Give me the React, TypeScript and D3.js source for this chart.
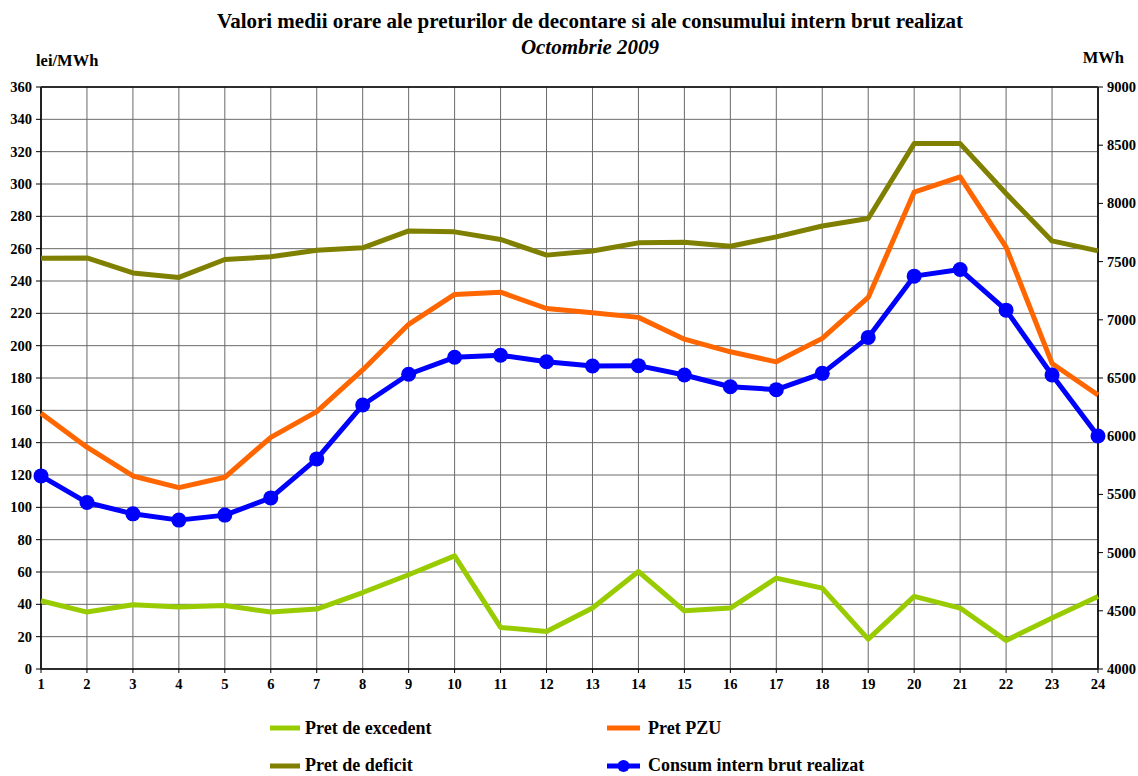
import React from "react";
import * as d3 from "d3";

const hours = d3.range(1, 25);
const pretExcedent = [42.2, 35.2, 39.7, 38.3, 39.3, 35.2, 37.1, 47.3, 58.3, 70.0, 25.7, 23.2, 37.7, 60.3, 36.0, 37.7, 56.2, 50.0, 18.5, 44.9, 37.7, 17.7, 31.5, 44.9];
const pretPZU = [158.2, 137.2, 119.4, 112.2, 118.6, 143.3, 159.2, 185.0, 213.2, 231.7, 233.1, 223.0, 220.3, 217.5, 204.0, 196.2, 190.0, 204.5, 229.8, 295.0, 304.4, 261.0, 189.0, 169.5];
const pretDeficit = [254.0, 254.3, 245.0, 242.2, 253.3, 255.0, 259.0, 260.5, 271.0, 270.4, 265.7, 256.0, 258.6, 263.6, 264.0, 261.5, 267.3, 274.0, 278.7, 325.0, 325.0, 294.1, 264.8, 258.6];
const consum = [5659, 5430, 5333, 5279, 5322, 5470, 5805, 6268, 6532, 6678, 6695, 6640, 6603, 6606, 6526, 6425, 6400, 6540, 6849, 7375, 7432, 7083, 6526, 6002];
const leftTicks = d3.range(0, 361, 20);
const rightTicks = d3.range(4000, 9001, 500);

const W = 1138, H = 776;
const M = { left: 41, right: 1098, top: 87, bottom: 669 };
const FONT = "'Liberation Serif', 'Times New Roman', serif";

export default function App() {
  const x = d3.scaleLinear().domain([1, 24]).range([M.left, M.right]);
  const yL = d3.scaleLinear().domain([0, 360]).range([M.bottom, M.top]);
  const yR = d3.scaleLinear().domain([4000, 9000]).range([M.bottom, M.top]);
  const lineL = d3.line<number>().x((_, i) => x(hours[i])).y((d) => yL(d));
  const lineR = d3.line<number>().x((_, i) => x(hours[i])).y((d) => yR(d));

  const cExc = "#99cc00";
  const cPZU = "#ff6600";
  const cDef = "#808000";
  const cCons = "#0000ff";

  return (
    <svg width={W} height={H} style={{ position: "absolute", left: 0, top: 0 }} fontFamily={FONT}>
      <rect x={0} y={0} width={W} height={H} fill="#fff" />
      <text x={590} y={28} textAnchor="middle" fontSize={21} fontWeight="bold">
        Valori medii orare ale preturilor de decontare si ale consumului intern brut realizat
      </text>
      <text x={590} y={54} textAnchor="middle" fontSize={21} fontWeight="bold" fontStyle="italic">
        Octombrie 2009
      </text>
      <text x={36} y={66} fontSize={16.5} fontWeight="bold">lei/MWh</text>
      <text x={1124} y={63} textAnchor="end" fontSize={16.5} fontWeight="bold">MWh</text>

      {/* grid */}
      {leftTicks.map((t) => (
        <line key={"h" + t} x1={M.left} x2={M.right} y1={yL(t)} y2={yL(t)} stroke="#6a6a6a" strokeWidth={1} />
      ))}
      {hours.map((h) => (
        <line key={"v" + h} x1={x(h)} x2={x(h)} y1={M.top} y2={M.bottom} stroke="#6a6a6a" strokeWidth={1} />
      ))}
      <line x1={M.left} x2={M.right} y1={M.top} y2={M.top} stroke="#000" strokeWidth={1.5} />
      <line x1={M.left} x2={M.right} y1={M.bottom} y2={M.bottom} stroke="#000" strokeWidth={1.5} />
      <line x1={M.left} x2={M.left} y1={M.top} y2={M.bottom} stroke="#222" strokeWidth={2} />
      <line x1={M.right} x2={M.right} y1={M.top} y2={M.bottom} stroke="#222" strokeWidth={2} />

      {/* axes */}
      {leftTicks.map((t) => (
        <g key={"lt" + t}>
          <line x1={M.left - 5} x2={M.left} y1={yL(t)} y2={yL(t)} stroke="#000" />
          <text x={M.left - 9} y={yL(t) + 5} textAnchor="end" fontSize={14.5} fontWeight="bold">{t}</text>
        </g>
      ))}
      {rightTicks.map((t) => (
        <g key={"rt" + t}>
          <line x1={M.right} x2={M.right + 5} y1={yR(t)} y2={yR(t)} stroke="#000" />
          <text x={M.right + 9} y={yR(t) + 5} textAnchor="start" fontSize={14.5} fontWeight="bold">{t}</text>
        </g>
      ))}
      {hours.map((h) => (
        <g key={"xt" + h}>
          <line x1={x(h)} x2={x(h)} y1={M.bottom} y2={M.bottom + 4} stroke="#000" />
          <text x={x(h)} y={M.bottom + 20} textAnchor="middle" fontSize={14.5} fontWeight="bold">{h}</text>
        </g>
      ))}

      {/* series */}
      <path d={lineL(pretDeficit) || ""} fill="none" stroke={cDef} strokeWidth={5} strokeLinejoin="round" />
      <path d={lineL(pretPZU) || ""} fill="none" stroke={cPZU} strokeWidth={5} strokeLinejoin="round" />
      <path d={lineL(pretExcedent) || ""} fill="none" stroke={cExc} strokeWidth={5} strokeLinejoin="round" />
      <path d={lineR(consum) || ""} fill="none" stroke={cCons} strokeWidth={5} strokeLinejoin="round" />
      {consum.map((v, i) => (
        <circle key={"c" + i} cx={x(hours[i])} cy={yR(v)} r={7.5} fill={cCons} />
      ))}

      {/* legend */}
      <g fontSize={18} fontWeight="bold">
        <line x1={270} x2={300} y1={728} y2={728} stroke={cExc} strokeWidth={5} />
        <text x={305} y={734}>Pret de excedent</text>
        <line x1={270} x2={300} y1={766} y2={766} stroke={cDef} strokeWidth={5} />
        <text x={305} y={771}>Pret de deficit</text>
        <line x1={607} x2={640} y1={728} y2={728} stroke={cPZU} strokeWidth={5} />
        <text x={648} y={734}>Pret PZU</text>
        <line x1={607} x2={640} y1={766} y2={766} stroke={cCons} strokeWidth={5} />
        <circle cx={623.5} cy={766} r={6} fill={cCons} />
        <text x={648} y={771}>Consum intern brut realizat</text>
      </g>
    </svg>
  );
}
